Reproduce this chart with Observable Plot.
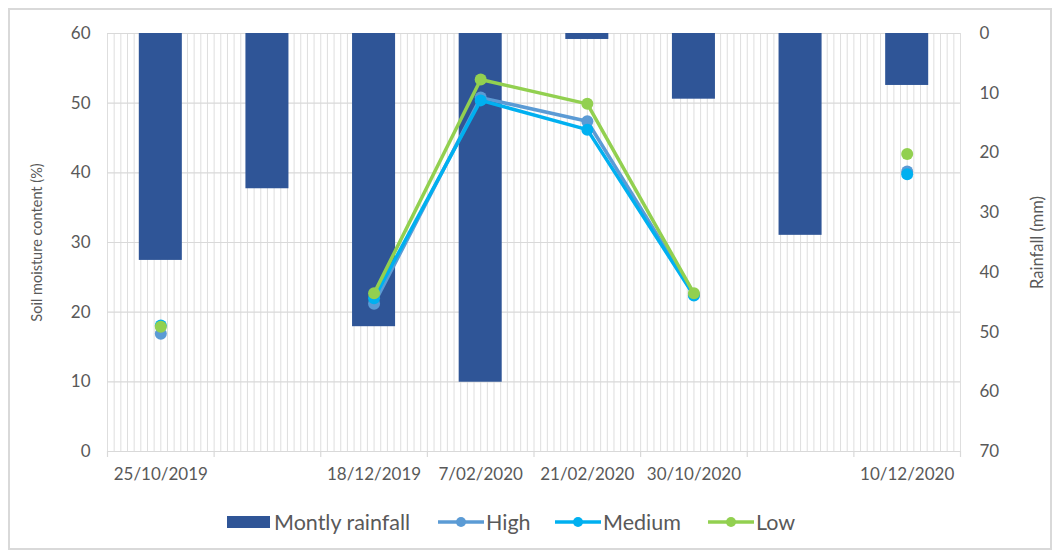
<!DOCTYPE html>
<html>
<head>
<meta charset="utf-8">
<script src="https://cdn.jsdelivr.net/npm/d3@7"></script>
<script src="https://cdn.jsdelivr.net/npm/@observablehq/plot@0.6"></script>
<style>
  body { margin: 0; background: #fff; font-family: Lato, "Open Sans", sans-serif; }
  #wrap { position: relative; width: 1055px; height: 551px; overflow: hidden; }
  #frame { position: absolute; left: 8px; top: 8px; width: 1040px; height: 538px; border: 2px solid #d9d9d9; }
  #chart { position: absolute; left: 0; top: 0; }
  #legend { position: absolute; left: 0; top: 508px; width: 1055px; height: 28px; color: #595959; font-size: 21.5px; }
  #legend .sw { position: absolute; top: 0; height: 28px; display: flex; align-items: center; }
  #legend .lb { position: absolute; top: 0; height: 28px; line-height: 28px; white-space: nowrap; }
  #legend svg { display: block; }
</style>
</head>
<body>
<div id="wrap">
  <div id="frame"></div>
  <div id="chart"></div>
  <div id="legend"></div>
</div>
<script>
const categories = ["25/10/2019", "", "18/12/2019", "7/02/2020", "21/02/2020", "30/10/2020", "", "10/12/2020"];
const rainfall = [38.0, 26.0, 49.1, 58.4, 1.0, 11.0, 33.8, 8.7];
const high   = [16.9, null, 21.2, 50.8, 47.4, 22.5, null, 40.2];
const medium = [18.1, null, 22.0, 50.4, 46.2, 22.4, null, 39.8];
const low    = [17.9, null, 22.7, 53.4, 49.9, 22.7, null, 42.7];
const seriesNames = ["High", "Medium", "Low"];
const seriesColors = ["#5b9bd5", "#00b0f0", "#92d050"];
const rainName = "Montly rainfall";
const rainColor = "#2f5597";
const leftTicks = [0, 10, 20, 30, 40, 50, 60];
const rightTicks = [0, 10, 20, 30, 40, 50, 60, 70];
const leftMax = 60, rightMax = 70;

const keys = categories.map((c, i) => "k" + i);
const toLeft = r => leftMax - r * leftMax / rightMax;
const rainData = keys.map((k, i) => ({key: k, rain: rainfall[i]}));
const seriesData = [high, medium, low].map((arr, s) =>
  keys.map((k, i) => ({key: k, v: arr[i], series: seriesNames[s]})));

const W = 1055, H = 490, mL = 107, mR = 95, mT = 33, mB = 39;
const bw = (W - mL - mR) / keys.length;
const textColor = "#595959";

const minorGrid = [];
for (let j = 0; j < 16; j++) {
  minorGrid.push(Plot.ruleX(keys, {x: d => d, dx: -bw / 2 + j * bw / 16, stroke: "#dedede", strokeWidth: 1}));
}
minorGrid.push(Plot.ruleX([keys[keys.length - 1]], {x: d => d, dx: bw / 2, stroke: "#dedede", strokeWidth: 1}));

const lineMarks = [];
seriesData.forEach((data, s) => {
  lineMarks.push(Plot.line(data, {x: "key", y: "v", stroke: seriesColors[s], strokeWidth: 3.5}));
  lineMarks.push(Plot.dot(data.filter(d => d.v != null), {x: "key", y: "v", fill: seriesColors[s], r: 6}));
});

const chart = Plot.plot({
  width: W, height: H,
  marginLeft: mL, marginRight: mR, marginTop: mT, marginBottom: mB,
  style: {fontFamily: "Lato, 'Open Sans', sans-serif", color: textColor, background: "transparent"},
  x: {type: "band", domain: keys, padding: 0, round: false, axis: null},
  y: {domain: [0, leftMax], axis: null},
  marks: [
    ...minorGrid,
    Plot.ruleY(leftTicks, {y: d => d, stroke: "#d9d9d9", strokeWidth: 1.2}),
    Plot.ruleX(keys, {x: d => d, dx: -bw / 2, insetTop: H - mT - mB, insetBottom: -6, stroke: "#d9d9d9", strokeWidth: 1.2}),
    Plot.ruleX([keys[keys.length - 1]], {x: d => d, dx: bw / 2, insetTop: H - mT - mB, insetBottom: -6, stroke: "#d9d9d9", strokeWidth: 1.2}),
    Plot.barY(rainData, {x: "key", y1: leftMax, y2: d => toLeft(d.rain), fill: rainColor, insetLeft: 31.8, insetRight: 31.8}),
    ...lineMarks,
    Plot.axisX({tickSize: 0, tickPadding: 16, fontSize: 17, tickFormat: k => categories[keys.indexOf(k)], label: null, fill: textColor}),
    Plot.axisY(leftTicks, {anchor: "left", tickSize: 0, tickPadding: 17, fontSize: 17, label: null, fill: textColor}),
    Plot.axisY(rightTicks.map(toLeft), {anchor: "right", tickSize: 0, tickPadding: 19, fontSize: 17, label: null, fill: textColor, textAnchor: "start",
      tickFormat: v => String(Math.round((leftMax - v) * rightMax / leftMax))}),
    Plot.text(["Soil moisture content (%)"], {frameAnchor: "left", rotate: -90, dx: -70, fontSize: 14.5, fill: textColor, textAnchor: "middle"}),
    Plot.text(["Rainfall (mm)"], {frameAnchor: "right", rotate: -90, dx: 77, fontSize: 16.5, fill: textColor, textAnchor: "middle"})
  ]
});
document.getElementById("chart").appendChild(chart);

// legend (absolute positions matching the reference layout)
const legend = document.getElementById("legend");
function add(cls, left, html) {
  const el = document.createElement("div");
  el.className = cls;
  el.style.left = left + "px";
  el.innerHTML = html;
  legend.appendChild(el);
}
add("sw", 227, `<svg width="43" height="12"><rect width="43" height="12" fill="${rainColor}"/></svg>`);
add("lb", 274, rainName);
const lineLeft = [438, 555, 708], labelLeft = [486, 603, 756];
seriesNames.forEach((n, s) => {
  add("sw", lineLeft[s], `<svg width="46" height="14"><line x1="0" x2="46" y1="7" y2="7" stroke="${seriesColors[s]}" stroke-width="3.5"/><circle cx="23" cy="7" r="5" fill="${seriesColors[s]}"/></svg>`);
  add("lb", labelLeft[s], n);
});
</script>
</body>
</html>
